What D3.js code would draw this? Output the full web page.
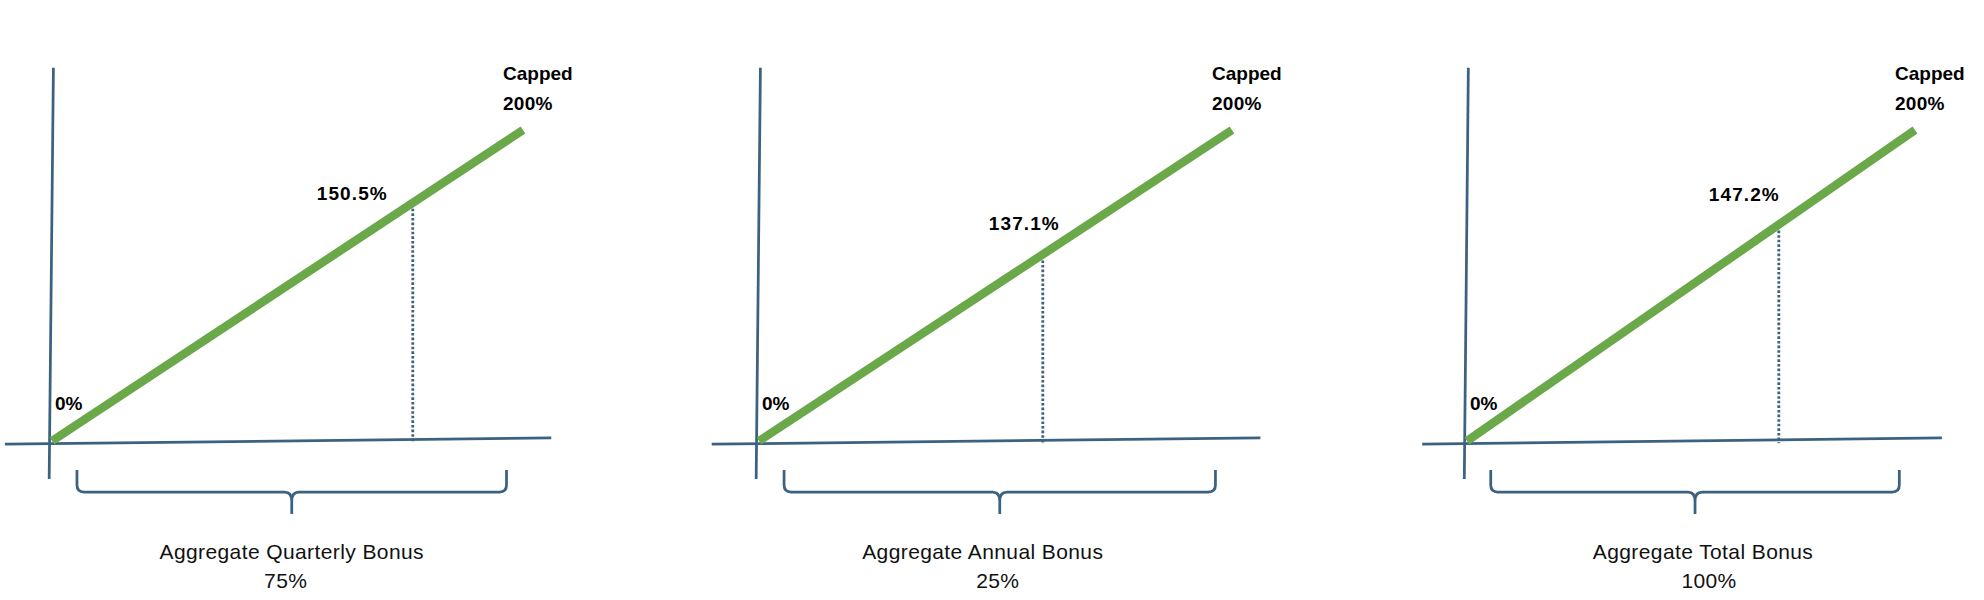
<!DOCTYPE html>
<html>
<head>
<meta charset="utf-8">
<script src="https://cdn.jsdelivr.net/npm/d3@7"></script>
<style>
  html, body { margin: 0; padding: 0; background: #ffffff; }
  svg { display: block; }
</style>
</head>
<body>
<svg id="chart" width="1984" height="600"></svg>
<script>
// ---------------- data ----------------
const panelTitles   = ["Aggregate Quarterly Bonus", "Aggregate Annual Bonus", "Aggregate Total Bonus"];
const panelWeights  = ["75%", "25%", "100%"];
const payoutLabels  = ["150.5%", "137.1%", "147.2%"];
const markerPerf    = [76.6, 60.0, 69.6];   // position of the result on the (unlabelled) performance axis, 0–100
const startPayout   = 0;                    // "0%"
const capPayout     = 200;                  // "Capped 200%"
const perfDomain    = [0, 100];

// ---------------- layout ----------------
const W = 1984, H = 600;
const originX   = [52, 759, 1467];
const plotWidth = [471, 473, 448];
const originY   = 441;
const plotHeight = 311;
const labelDx   = [-96, -54, -70];   // payout label offset from marker
const labelDy   = [-3, -24, -24];
const titleDx   = [0, -17, 8];
const weightDx  = [-6, -2, 14];

const AXIS = "#3c6282";
const GREEN = "#6aa84a";

const svg = d3.select("#chart");

panelTitles.forEach((title, i) => {
  const ox = originX[i];
  const x = d3.scaleLinear().domain(perfDomain).range([ox, ox + plotWidth[i]]);
  const y = d3.scaleLinear().domain([startPayout, capPayout]).range([originY, originY - plotHeight]);
  const g = svg.append("g");

  // x axis (slightly tilted like the reference drawing)
  g.append("line")
    .attr("x1", x(-10)).attr("y1", y(-2))
    .attr("x2", x(106)).attr("y2", y(2))
    .attr("stroke", AXIS).attr("stroke-width", 2.75);

  // y axis
  g.append("line")
    .attr("x1", x(0.3)).attr("y1", y(240))
    .attr("x2", x(-0.6)).attr("y2", y(-24.5))
    .attr("stroke", AXIS).attr("stroke-width", 2.75);

  // dotted drop line from the marker to the x axis
  const mp = markerPerf[i];
  const mv = mp / perfDomain[1] * capPayout;
  g.append("line")
    .attr("x1", x(mp)).attr("y1", y(mv) + 6)
    .attr("x2", x(mp)).attr("y2", y(-1.5))
    .attr("stroke", AXIS).attr("stroke-width", 2.8)
    .attr("stroke-dasharray", "2.6,2");

  // payout line
  const pts = [[perfDomain[0], startPayout], [perfDomain[1], capPayout]];
  g.append("path")
    .datum(pts)
    .attr("d", d3.line().x(d => x(d[0])).y(d => y(d[1])))
    .attr("fill", "none")
    .attr("stroke", GREEN).attr("stroke-width", 8.5)
    .attr("stroke-linecap", "butt");

  const bold = sel => sel.attr("font-family", "'Liberation Sans', Arial, sans-serif")
    .attr("font-weight", "bold").attr("font-size", 19).attr("fill", "#000");

  // labels
  g.append("text").call(bold)
    .attr("x", x(0) + 3).attr("y", y(startPayout) - 31)
    .text(d3.format(".0%")(startPayout / 100));
  g.append("text").call(bold)
    .attr("x", x(mp) + labelDx[i]).attr("y", y(mv) + labelDy[i])
    .attr("letter-spacing", 1.1)
    .text(payoutLabels[i]);
  g.append("text").call(bold)
    .attr("x", x(perfDomain[1]) - 20).attr("y", y(capPayout) - 50)
    .text("Capped");
  g.append("text").call(bold)
    .attr("x", x(perfDomain[1]) - 20).attr("y", y(capPayout) - 20)
    .attr("letter-spacing", 0.3)
    .text(d3.format(".0%")(capPayout / 100));

  // curly brace under the axis
  const L = x(5.3), R = x(96.5), M = (L + R) / 2;
  const top = 470, hy = 492, tip = 514, r = 7;
  const brace = [
    `M${L},${top} L${L},${hy - r} Q${L},${hy} ${L + r},${hy} L${M - r},${hy} Q${M},${hy} ${M},${hy + r + 2} L${M},${tip}`,
    `M${R},${top} L${R},${hy - r} Q${R},${hy} ${R - r},${hy} L${M + r},${hy} Q${M},${hy} ${M},${hy + r + 2} L${M},${tip}`
  ].join(" ");
  g.append("path").attr("d", brace)
    .attr("fill", "none").attr("stroke", AXIS).attr("stroke-width", 2.75);

  // titles
  g.append("text")
    .attr("x", M + titleDx[i]).attr("y", 559)
    .attr("text-anchor", "middle")
    .attr("font-family", "'Liberation Sans', Arial, sans-serif")
    .attr("font-size", 21).attr("letter-spacing", 0.4).attr("fill", "#111")
    .text(title);
  g.append("text")
    .attr("x", M + weightDx[i]).attr("y", 588)
    .attr("text-anchor", "middle")
    .attr("font-family", "'Liberation Sans', Arial, sans-serif")
    .attr("font-size", 21).attr("letter-spacing", 0.4).attr("fill", "#111")
    .text(panelWeights[i]);
});
</script>
</body>
</html>
